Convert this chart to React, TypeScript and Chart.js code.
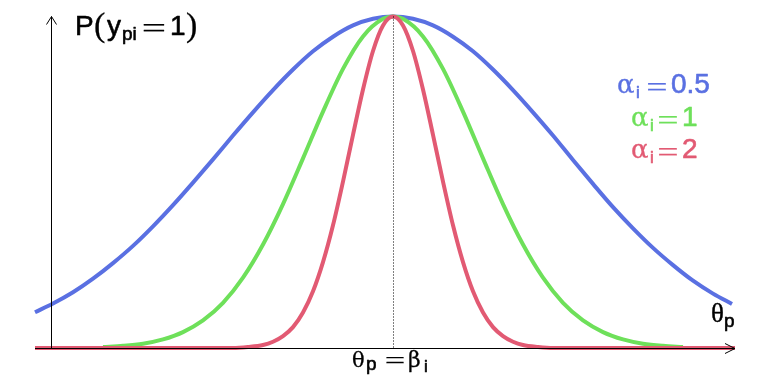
import React, { useEffect, useRef } from "react";
import { Chart, registerables } from "chart.js";

Chart.register(...registerables);

// theta (relative to beta_i) and probability readings for each curve
const thetaBlue = [-3.58, -3.4, -3.2, -3.0, -2.8, -2.6, -2.4, -2.2, -2.0, -1.8, -1.6, -1.4, -1.2, -1.0, -0.8, -0.6, -0.4, -0.2, 0, 0.2, 0.4, 0.6, 0.8, 1.0, 1.2, 1.4, 1.6, 1.8, 2.0, 2.2, 2.4, 2.6, 2.8, 3.0, 3.2, 3.39];
const pBlue = [0.108, 0.134, 0.168, 0.209, 0.256, 0.308, 0.367, 0.431, 0.499, 0.569, 0.641, 0.711, 0.778, 0.84, 0.895, 0.939, 0.973, 0.993, 1.0, 0.993, 0.973, 0.939, 0.895, 0.84, 0.778, 0.711, 0.641, 0.567, 0.495, 0.425, 0.361, 0.302, 0.25, 0.203, 0.164, 0.133];

const thetaGreen = [-2.9, -2.7, -2.5, -2.3, -2.1, -1.9, -1.7, -1.5, -1.3, -1.1, -0.9, -0.7, -0.5, -0.3, -0.1, 0, 0.1, 0.3, 0.5, 0.7, 0.9, 1.1, 1.3, 1.5, 1.7, 1.9, 2.1, 2.3, 2.5, 2.7, 2.9];
const pGreen = [0.003, 0.0065, 0.013, 0.026, 0.048, 0.083, 0.136, 0.212, 0.312, 0.434, 0.572, 0.713, 0.842, 0.94, 0.993, 1.0, 0.993, 0.94, 0.842, 0.713, 0.572, 0.434, 0.312, 0.212, 0.136, 0.083, 0.048, 0.026, 0.013, 0.0065, 0.003];

const thetaRed = [-3.58, -1.6, -1.45, -1.3, -1.2, -1.1, -1.0, -0.9, -0.8, -0.7, -0.6, -0.5, -0.4, -0.3, -0.2, -0.1, 0, 0.1, 0.2, 0.3, 0.4, 0.5, 0.6, 0.7, 0.8, 0.9, 1.0, 1.1, 1.2, 1.3, 1.45, 1.6, 3.42];
const pRed = [0, 0, 0.003, 0.009, 0.019, 0.036, 0.063, 0.107, 0.171, 0.259, 0.37, 0.502, 0.643, 0.78, 0.896, 0.973, 1.0, 0.973, 0.896, 0.78, 0.643, 0.502, 0.37, 0.259, 0.171, 0.107, 0.063, 0.036, 0.019, 0.009, 0.003, 0, 0];

const alphaLabels = ["0.5", "1", "2"];
const colors = ["#5a70e2", "#6ee05a", "#e25a73"];

const X_MIN = -3.58;
const X_MAX = 3.42;
const Y_AXIS_THETA = -3.42;

function toPoints(xs: number[], ys: number[]) {
  return xs.map((x, i) => ({ x, y: ys[i] }));
}

function txt(ctx: CanvasRenderingContext2D, s: string, x: number, y: number, font: string, color: string, align: CanvasTextAlign = "left", sx = 1, bold = 0.6) {
  ctx.save();
  ctx.font = font;
  ctx.fillStyle = color;
  ctx.strokeStyle = color;
  ctx.lineWidth = bold;
  ctx.lineJoin = "round";
  ctx.textAlign = align;
  ctx.textBaseline = "alphabetic";
  ctx.translate(x, y);
  ctx.scale(sx, 1);
  ctx.fillText(s, 0, 0);
  if (bold > 0) ctx.strokeText(s, 0, 0);
  ctx.restore();
}

const SANS = "'Liberation Sans', Arial, sans-serif";
const SERIF = "'Liberation Serif', 'Times New Roman', serif";
const GREEK = "'DejaVu Serif', serif";

const annotations = {
  id: "annotations",
  afterDatasetsDraw(chart: any) {
    const ctx: CanvasRenderingContext2D = chart.ctx;
    const xs = chart.scales.x;
    const ys = chart.scales.y;
    const area = chart.chartArea;
    const y0 = Math.round(ys.getPixelForValue(0)) + 0.5;
    const yTop = ys.getPixelForValue(1);
    const xAxis = Math.round(xs.getPixelForValue(Y_AXIS_THETA)) + 0.5;
    const xBeta = Math.round(xs.getPixelForValue(0)) + 0.5;

    ctx.save();
    ctx.strokeStyle = "#000";
    ctx.lineWidth = 1;
    // x axis
    ctx.beginPath();
    ctx.moveTo(area.left, y0);
    ctx.lineTo(area.right, y0);
    ctx.moveTo(area.right - 10, y0 - 5);
    ctx.lineTo(area.right, y0);
    ctx.lineTo(area.right - 10, y0 + 5);
    ctx.stroke();
    // y axis
    ctx.beginPath();
    ctx.moveTo(xAxis, y0);
    ctx.lineTo(xAxis, yTop);
    ctx.moveTo(xAxis - 5, yTop + 8);
    ctx.lineTo(xAxis, yTop);
    ctx.lineTo(xAxis + 5, yTop + 8);
    ctx.stroke();
    // dotted line at beta
    ctx.setLineDash([1, 2]);
    ctx.beginPath();
    ctx.moveTo(xBeta, yTop);
    ctx.lineTo(xBeta, y0);
    ctx.stroke();
    ctx.restore();

    // y label P(y_pi = 1)
    txt(ctx, "P", 75, 35, `28px ${SANS}`, "#000");
    txt(ctx, "(", 94, 36, `34px ${SERIF}`, "#000", "left", 1, 0.3);
    txt(ctx, "y", 107, 35, `28px ${SANS}`, "#000");
    txt(ctx, "pi", 122, 40, `19px ${SANS}`, "#000");
    txt(ctx, "=", 154, 37, `27px ${SERIF}`, "#000", "center", 1.6, 0.2);
    txt(ctx, "1", 170, 35, `28px ${SANS}`, "#000");
    txt(ctx, ")", 186, 36, `34px ${SERIF}`, "#000", "left", 1, 0.3);

    // legend
    const baseY = [93, 125.5, 158];
    const alphaX = [617, 631, 631];
    const eqX = [657, 668, 668];
    const valX = [671, 682, 682];
    alphaLabels.forEach((lab, i) => {
      const c = colors[i];
      txt(ctx, "\u03b1", alphaX[i], baseY[i], `26px ${GREEK}`, c, "left", 1, 0.3);
      txt(ctx, "i", alphaX[i] + 19, baseY[i] + 5, `17px ${SANS}`, c);
      txt(ctx, "=", eqX[i], baseY[i] + 3, `27px ${SERIF}`, c, "center", 1.4, 0.2);
      txt(ctx, lab, valX[i], baseY[i], `28px ${SANS}`, c);
    });

    // theta_p at right end of x axis
    txt(ctx, "\u03b8", 711, 322, `27px ${SERIF}`, "#000", "left", 1, 0.4);
    txt(ctx, "p", 724, 327, `19px ${SANS}`, "#000");

    // theta_p = beta_i under the axis
    txt(ctx, "\u03b8", 352, 367, `21px ${GREEK}`, "#000", "left", 1, 0.3);
    txt(ctx, "p", 366, 370, `19px ${SANS}`, "#000");
    txt(ctx, "=", 395, 369, `26px ${SERIF}`, "#000", "center", 1.4, 0.2);
    txt(ctx, "\u03b2", 408, 367, `22px ${GREEK}`, "#000", "left", 1, 0.3);
    txt(ctx, "i", 424, 372, `17px ${SANS}`, "#000");
  },
};

export default function App() {
  const ref = useRef<HTMLCanvasElement | null>(null);
  useEffect(() => {
    document.body.style.margin = "0";
    if (!ref.current) return;
    const common = { fill: false, pointRadius: 0, borderWidth: 4, cubicInterpolationMode: "monotone" as const, clip: false as const };
    const chart = new Chart(ref.current, {
      type: "line",
      data: {
        datasets: [
          { ...common, label: "alpha=2", data: toPoints(thetaRed, pRed), borderColor: colors[2] },
          { ...common, label: "alpha=1", data: toPoints(thetaGreen, pGreen), borderColor: colors[1] },
          { ...common, label: "alpha=0.5", data: toPoints(thetaBlue, pBlue), borderColor: colors[0] },
        ],
      },
      options: {
        responsive: false,
        animation: false,
        layout: { padding: { left: 35, right: 33, top: 16.5, bottom: 36 } },
        scales: {
          x: { type: "linear", min: X_MIN, max: X_MAX, display: false },
          y: { type: "linear", min: 0, max: 1, display: false },
        },
        plugins: { legend: { display: false }, tooltip: { enabled: false } },
      },
      plugins: [annotations],
    });
    return () => chart.destroy();
  }, []);
  return (
    <div style={{ position: "absolute", left: 0, top: 0, width: 768, height: 384, background: "#fff" }}>
      <canvas ref={ref} width={768} height={384} style={{ width: 768, height: 384 }} />
    </div>
  );
}
